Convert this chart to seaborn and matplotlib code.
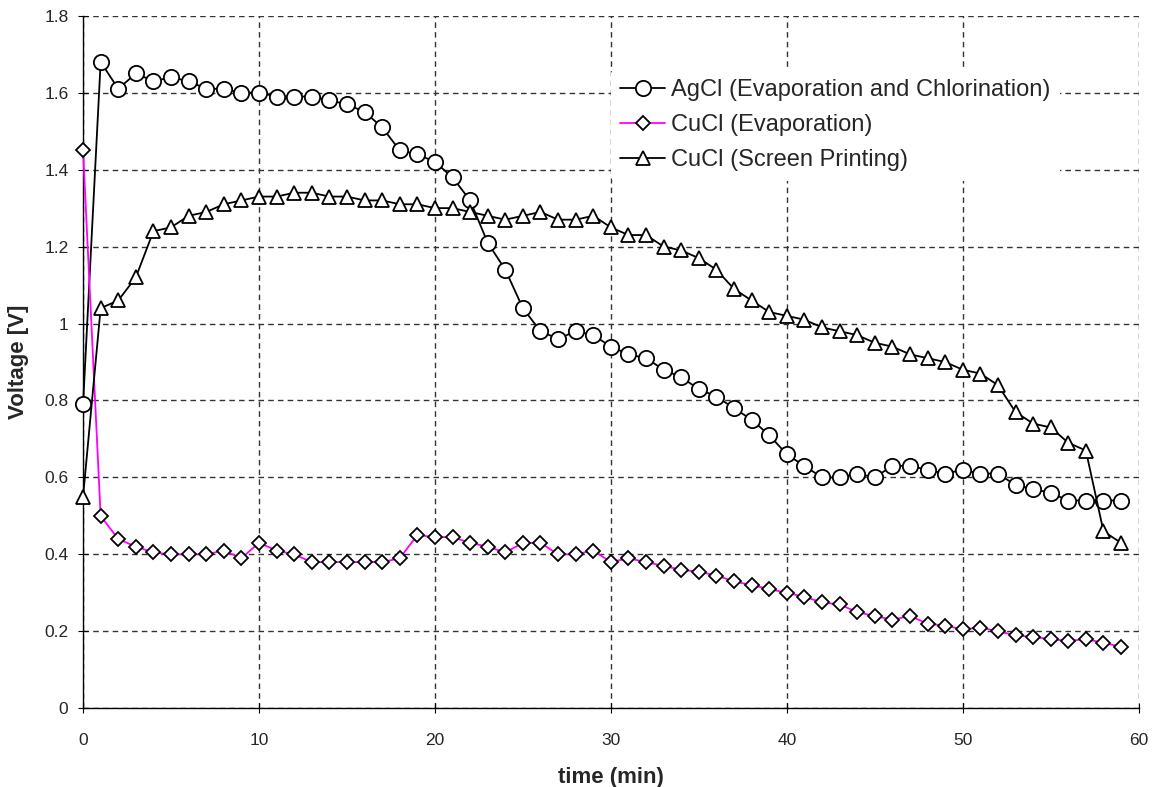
import numpy as np
import pandas as pd
import matplotlib
matplotlib.use("Agg")
import matplotlib.pyplot as plt
import seaborn as sns

minutes = list(range(60))

agcl = [0.79, 1.68, 1.61, 1.65, 1.63, 1.64, 1.63, 1.61, 1.61, 1.60,
        1.60, 1.59, 1.59, 1.59, 1.58, 1.57, 1.55, 1.51, 1.45, 1.44,
        1.42, 1.38, 1.32, 1.21, 1.14, 1.04, 0.98, 0.96, 0.98, 0.97,
        0.94, 0.92, 0.91, 0.88, 0.86, 0.83, 0.81, 0.78, 0.75, 0.71,
        0.66, 0.63, 0.60, 0.60, 0.61, 0.60, 0.63, 0.63, 0.62, 0.61,
        0.62, 0.61, 0.61, 0.58, 0.57, 0.56, 0.54, 0.54, 0.54, 0.54]

cucl_evap = [1.45, 0.50, 0.44, 0.42, 0.405, 0.40, 0.40, 0.40, 0.41, 0.39,
             0.43, 0.41, 0.40, 0.38, 0.38, 0.38, 0.38, 0.38, 0.39, 0.45,
             0.445, 0.445, 0.43, 0.42, 0.405, 0.43, 0.43, 0.40, 0.40, 0.41,
             0.38, 0.39, 0.38, 0.37, 0.36, 0.355, 0.345, 0.33, 0.32, 0.31,
             0.30, 0.29, 0.275, 0.27, 0.25, 0.24, 0.23, 0.24, 0.22, 0.215,
             0.205, 0.21, 0.20, 0.19, 0.185, 0.18, 0.175, 0.18, 0.17, 0.16]

cucl_screen = [0.55, 1.04, 1.06, 1.12, 1.24, 1.25, 1.28, 1.29, 1.31, 1.32,
               1.33, 1.33, 1.34, 1.34, 1.33, 1.33, 1.32, 1.32, 1.31, 1.31,
               1.30, 1.30, 1.29, 1.28, 1.27, 1.28, 1.29, 1.27, 1.27, 1.28,
               1.25, 1.23, 1.23, 1.20, 1.19, 1.17, 1.14, 1.09, 1.06, 1.03,
               1.02, 1.01, 0.99, 0.98, 0.97, 0.95, 0.94, 0.92, 0.91, 0.90,
               0.88, 0.87, 0.84, 0.77, 0.74, 0.73, 0.69, 0.67, 0.46, 0.43]

labels = ["AgCl (Evaporation and Chlorination)",
          "CuCl (Evaporation)",
          "CuCl (Screen Printing)"]

sns.set_style("white")
plt.rcParams['font.family'] = ['Liberation Sans', 'DejaVu Sans']

fig = plt.figure(figsize=(11.6, 7.87), dpi=100)
ax = fig.add_axes([0.0716, 0.100, 0.910, 0.880])

df = pd.DataFrame({'t': minutes, 'a': agcl, 'e': cucl_evap, 's': cucl_screen})

# open markers, not clipped at x=0
mk = dict(markerfacecolor='white', markeredgecolor='black', markeredgewidth=1.3,
          clip_on=False)
sns.lineplot(data=df, x='t', y='a', ax=ax, color='black', lw=1.3, marker='o',
             markersize=11, label=labels[0], zorder=3, **mk)
sns.lineplot(data=df, x='t', y='e', ax=ax, color='#ff00ff', lw=1.3, marker='D',
             markersize=6.8, label=labels[1], zorder=3, **mk)
sns.lineplot(data=df, x='t', y='s', ax=ax, color='black', lw=1.3, marker='^',
             markersize=9.5, label=labels[2], zorder=3, **mk)

ax.set_xlim(0, 60)
ax.set_ylim(0, 1.8)
ax.set_xticks(range(0, 61, 10))
yt = np.round(np.arange(0, 1.81, 0.2), 1)
ax.set_yticks(yt)
ax.set_yticklabels(['%g' % v for v in yt])
ax.tick_params(labelsize=12.5, direction='inout', length=7, color='black',
               left=True, bottom=True)
ax.tick_params(axis='x', pad=14)
ax.tick_params(axis='y', pad=7)

ax.grid(True, color='#333333', linestyle=(0, (4, 3)), linewidth=1.0)
ax.set_axisbelow(True)
for side in ['top', 'right']:
    ax.spines[side].set_visible(False)
for side in ['left', 'bottom']:
    ax.spines[side].set_color('black')
    ax.spines[side].set_linewidth(1.0)

ax.set_xlabel('time (min)', fontsize=16, fontweight='bold', labelpad=14)
ax.set_ylabel('Voltage [V]', fontsize=16, fontweight='bold', labelpad=11)

leg = ax.legend(loc='upper left', bbox_to_anchor=(0.50, 0.922), fontsize=17,
                frameon=True, facecolor='white', edgecolor='none', framealpha=1,
                handlelength=1.9, handletextpad=0.25, borderaxespad=0,
                labelspacing=0.55)

fig.savefig('out.png', dpi=100)
